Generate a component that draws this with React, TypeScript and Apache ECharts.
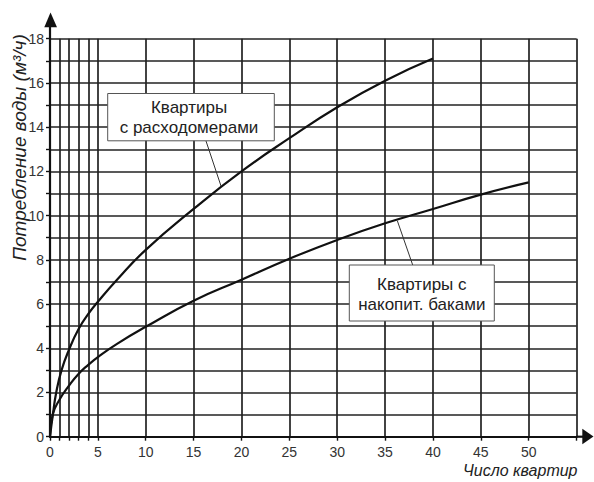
import React, { useEffect, useRef } from "react";
import * as echarts from "echarts";

// Axis ticks / labels
const xTickValues = [0, 1, 2, 3, 4, 5, 10, 15, 20, 25, 30, 35, 40, 45, 50, 55];
const xLabelValues = [0, 5, 10, 15, 20, 25, 30, 35, 40, 45, 50];

// "Квартиры с расходомерами"
const meterX = [0, 0.3, 0.65, 1.2, 2, 3, 4, 5, 7, 10, 15, 20, 25, 30, 35, 40];
const meterY = [0, 1, 2, 3, 3.95, 4.88, 5.55, 6.1, 7.1, 8.45, 10.3, 12.0, 13.5, 14.9, 16.1, 17.1];

// "Квартиры с накопит. баками"
const tankX = [0, 0.28, 1, 2, 3, 4, 5, 7, 10, 15, 20, 25, 30, 35, 40, 45, 50];
const tankY = [0, 1, 1.68, 2.32, 2.85, 3.25, 3.6, 4.2, 4.97, 6.15, 7.1, 8.05, 8.9, 9.65, 10.3, 10.95, 11.5];

const yAxisName = "Потребление воды (м³/ч)";
const xAxisName = "Число квартир";
const meterLabel = "Квартиры\nс расходомерами";
const tankLabel = "Квартиры с\nнакопит. баками";

const FONT = "'Liberation Sans', Arial, sans-serif";

export default function App() {
  const ref = useRef<HTMLDivElement>(null);
  useEffect(() => {
    if (!ref.current) return;
    const chart = echarts.init(ref.current, undefined, { renderer: "svg" });
    const gridColor = "#222";
    chart.setOption({
      animation: false,
      backgroundColor: "#ffffff",
      grid: { left: 50, right: 17.4, top: 38.7, bottom: 45.3, containLabel: false },
      xAxis: {
        type: "value",
        min: 0,
        max: 55,
        axisLine: { show: true, onZero: false, lineStyle: { color: "#111", width: 2.2 } },
        axisTick: {
          show: true,
          customValues: xTickValues,
          length: 4,
          lineStyle: { color: "#111", width: 1.4 },
        },
        axisLabel: {
          customValues: xLabelValues,
          color: "#333",
          fontSize: 14,
          fontFamily: FONT,
          margin: 8,
        },
        splitLine: { show: true, lineStyle: { color: gridColor, width: 1.7 } },
      },
      yAxis: {
        type: "value",
        min: 0,
        max: 18,
        interval: 1,
        axisLine: { show: true, onZero: false, lineStyle: { color: "#111", width: 2.2 } },
        axisTick: { show: true, length: 4, lineStyle: { color: "#111", width: 1.4 } },
        axisLabel: {
          interval: 1,
          formatter: (v: number) => (v % 2 === 0 ? String(v) : ""),
          color: "#333",
          fontSize: 14,
          fontFamily: FONT,
          margin: 6,
        },
        splitLine: { show: true, lineStyle: { color: gridColor, width: 1.7 } },
      },
      series: [
        {
          type: "line",
          data: meterX.map((x, i) => [x, meterY[i]]),
          smooth: 0.5,
          showSymbol: false,
          lineStyle: { color: "#111", width: 2.2 },
          z: 5,
        },
        {
          type: "line",
          data: tankX.map((x, i) => [x, tankY[i]]),
          smooth: 0.5,
          showSymbol: false,
          lineStyle: { color: "#111", width: 2.2 },
          z: 5,
        },
      ],
      graphic: [
        // axis extensions and arrows
        { type: "line", shape: { x1: 50, y1: 38.7, x2: 50, y2: 26 }, style: { stroke: "#111", lineWidth: 2.2 }, z: 10 },
        { type: "polygon", shape: { points: [[50.5, 12.5], [44.3, 27.3], [57, 27.3]] }, style: { fill: "#111" }, z: 10 },
        { type: "line", shape: { x1: 576.6, y1: 436.7, x2: 583, y2: 436.7 }, style: { stroke: "#111", lineWidth: 2.2 }, z: 10 },
        { type: "polygon", shape: { points: [[593.5, 436.5], [582.3, 428.7], [582.3, 444.3]] }, style: { fill: "#111" }, z: 10 },
        // axis names
        {
          type: "text",
          x: 19,
          y: 147.5,
          rotation: Math.PI / 2,
          style: {
            text: yAxisName,
            font: `italic 19px ${FONT}`,
            fill: "#222",
            textAlign: "center",
            textVerticalAlign: "middle",
          },
          z: 10,
        },
        {
          type: "text",
          x: 577.5,
          y: 470.5,
          style: {
            text: xAxisName,
            font: `italic 16px ${FONT}`,
            fill: "#222",
            textAlign: "right",
            textVerticalAlign: "middle",
          },
          z: 10,
        },
        // leader lines
        { type: "line", shape: { x1: 206, y1: 141, x2: 221, y2: 186 }, style: { stroke: "#333", lineWidth: 1 }, z: 10 },
        { type: "line", shape: { x1: 412.7, y1: 265, x2: 397.3, y2: 220.7 }, style: { stroke: "#333", lineWidth: 1 }, z: 10 },
        // label boxes
        {
          type: "rect",
          shape: { x: 107.7, y: 93.5, width: 166.6, height: 47.3 },
          style: { fill: "#fff", stroke: "#555", lineWidth: 1 },
          z: 11,
        },
        {
          type: "text",
          x: 189,
          y: 117.5,
          style: {
            text: meterLabel,
            font: `17px ${FONT}`,
            lineHeight: 20.5,
            fill: "#222",
            textAlign: "center",
            textVerticalAlign: "middle",
          },
          z: 12,
        },
        {
          type: "rect",
          shape: { x: 349.3, y: 265, width: 145, height: 56 },
          style: { fill: "#fff", stroke: "#555", lineWidth: 1 },
          z: 11,
        },
        {
          type: "text",
          x: 421.8,
          y: 294.5,
          style: {
            text: tankLabel,
            font: `17px ${FONT}`,
            lineHeight: 20.5,
            fill: "#222",
            textAlign: "center",
            textVerticalAlign: "middle",
          },
          z: 12,
        },
      ],
    });
    return () => chart.dispose();
  }, []);
  return (
    <div
      ref={ref}
      style={{ position: "fixed", left: 0, top: 0, width: 594, height: 482, background: "#fff" }}
    />
  );
}
